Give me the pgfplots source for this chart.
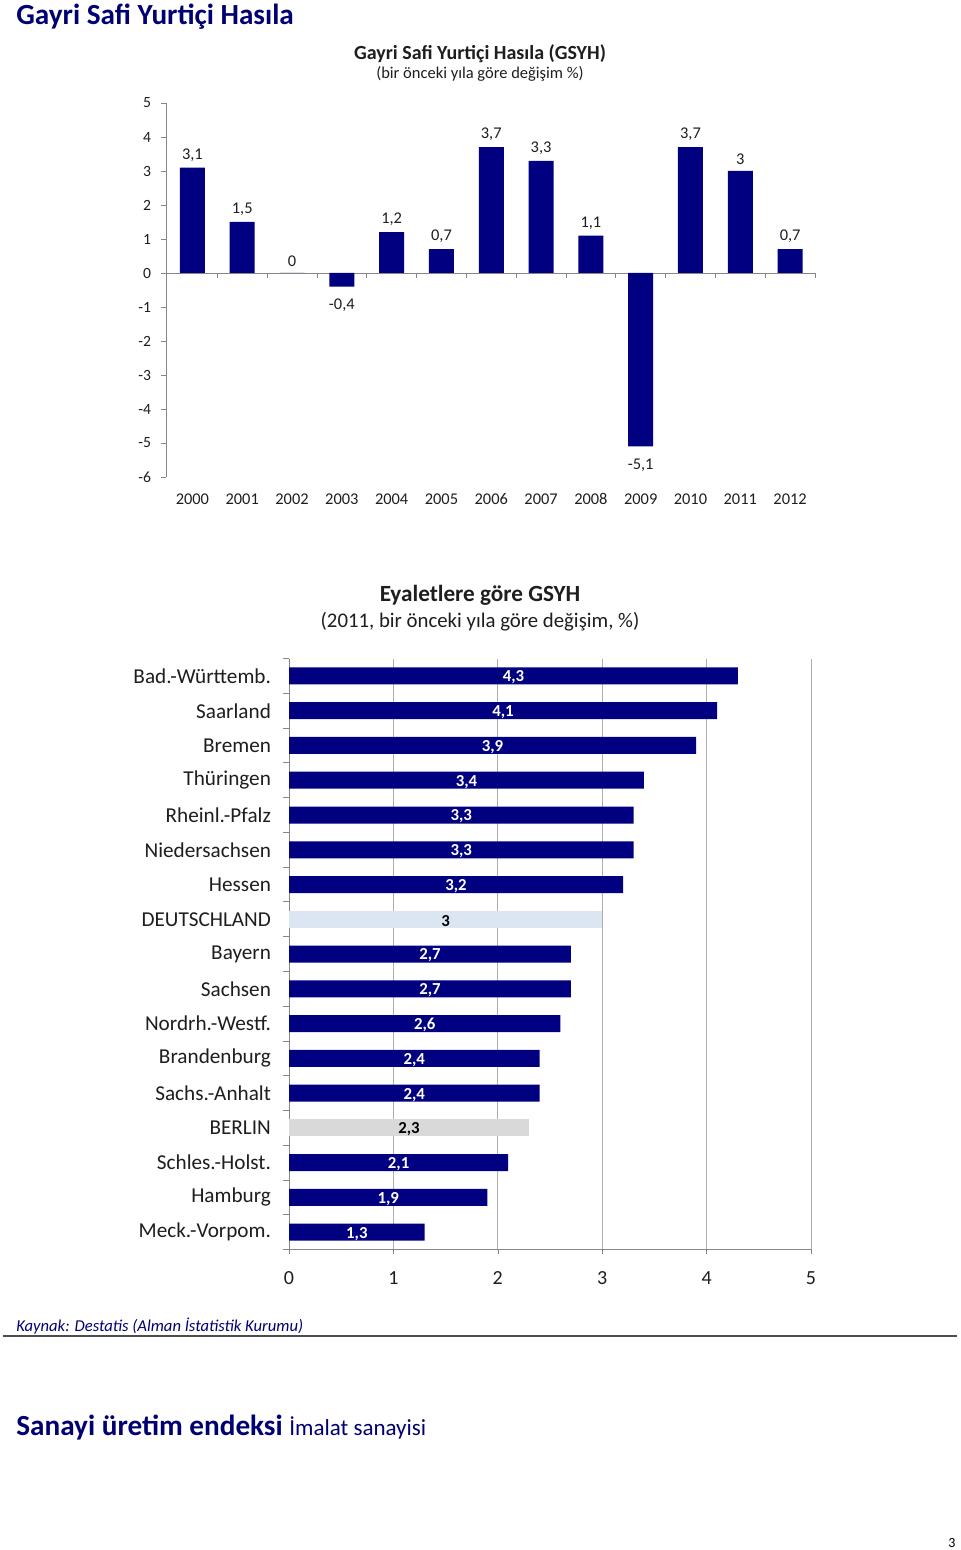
\documentclass[border=0pt]{standalone}
\usepackage{pgfplots}
\pgfplotsset{compat=1.18}
\usepackage{fontspec}
\setmainfont{Carlito}
\definecolor{navy}{RGB}{0,0,128}
\definecolor{ttl}{RGB}{0,0,115}
\definecolor{dlblue}{RGB}{220,230,242}
\definecolor{bgray}{RGB}{217,217,217}
\definecolor{axgray}{RGB}{134,134,134}
\definecolor{grd}{RGB}{175,175,175}
\definecolor{txt}{RGB}{30,30,30}
\begin{document}
\begin{tikzpicture}[x=0.5pt,y=-0.5pt]
\path[use as bounding box, fill=white] (0,0) rectangle (960,1550);
% page headings
\node[anchor=base west, text=ttl, inner sep=0, font=\fontsize{14.6}{16}\selectfont\bfseries] at (16,25) {Gayri Safi Yurtiçi Hasıla};
\node[anchor=base, text=txt, inner sep=0, font=\fontsize{10}{12}\selectfont\bfseries] at (480,60) {Gayri Safi Yurtiçi Hasıla (GSYH)};
\node[anchor=base, text=txt, inner sep=0, font=\fontsize{8.25}{10}\selectfont] at (480,79) {(bir önceki yıla göre değişim \%)};
% chart 1
\begin{axis}[
  at={(83pt,-238.5pt)}, anchor=south west,
  width=324.5pt, height=187pt, scale only axis,
  xmin=-0.53, xmax=12.5, ymin=-6, ymax=5,
  ybar, bar width=12.5pt, bar shift=0pt,
  axis x line*=bottom, axis y line*=left,
  x axis line style={draw=none},
  y axis line style={axgray},
  xtick={0,...,12},
  xticklabels={2000,2001,2002,2003,2004,2005,2006,2007,2008,2009,2010,2011,2012},
  xtick style={draw=none},
  ytick={-6,...,5},
  ytick style={axgray},
  tick align=outside, major tick length=2.5pt,
  /pgf/number format/assume math mode=true,
  tick label style={font=\fontsize{7.8}{9}\selectfont, text=txt},
  xticklabel style={font=\fontsize{8.2}{9}\selectfont, text height=6pt, text depth=0pt, yshift=-1.5pt},
  yticklabel style={xshift=-1.5pt},
  nodes near coords,
  /pgf/number format/use comma,
  every node near coord/.append style={font=\fontsize{8.2}{9}\selectfont, text=txt, inner ysep=4.5pt, yshift=-1.5pt},
  clip=false,
]
\draw[axgray] (axis cs:-0.53,0) -- (axis cs:12.5,0);
\pgfplotsinvokeforeach{0.5,1.5,2.5,3.5,4.5,5.5,6.5,7.5,8.5,9.5,10.5,11.5,12.5}{
  \draw[axgray] (axis cs:#1,0) -- ++(0pt,-2.5pt);
}
\addplot[fill=navy, draw=none] coordinates {
(0,3.1)(1,1.5)(2,0)(3,-0.4)(4,1.2)(5,0.7)(6,3.7)(7,3.3)(8,1.1)(9,-5.1)(10,3.7)(11,3)(12,0.7)
};
\end{axis}
% chart 2 headings
\node[anchor=base, text=txt, inner sep=0, font=\fontsize{11.6}{13}\selectfont\bfseries] at (480,601) {Eyaletlere göre GSYH};
\node[anchor=base, text=txt, inner sep=0, font=\fontsize{10.4}{12}\selectfont] at (480,627) {(2011, bir önceki yıla göre değişim, \%)};
\begin{axis}[
  at={(144.5pt,-624.7pt)}, anchor=south west,
  width=261pt, height=295.4pt, scale only axis,
  xbar, bar width=8.5pt, bar shift=0pt,
  xmin=0, xmax=5, ymin=-0.5, ymax=16.5, y dir=reverse,
  axis x line*=bottom, axis y line*=left,
  axis line style={axgray},
  xmajorgrids, major grid style={grd},
  xtick={0,...,5},
  xtick style={axgray},
  tick align=outside, major tick length=2.5pt,
  ytick={0,...,16},
  yticklabels={Bad.-Württemb.,Saarland,Bremen,Thüringen,Rheinl.-Pfalz,Niedersachsen,Hessen,DEUTSCHLAND,Bayern,Sachsen,Nordrh.-Westf.,Brandenburg,Sachs.-Anhalt,BERLIN,Schles.-Holst.,Hamburg,Meck.-Vorpom.},
  ytick style={draw=none},
  /pgf/number format/assume math mode=true,
  tick label style={font=\fontsize{10}{12}\selectfont, text=txt},
  xticklabel style={yshift=-5pt},
  yticklabel style={font=\fontsize{10.6}{12}\selectfont, xshift=-3pt},
  nodes near coords,
  /pgf/number format/use comma,
  visualization depends on={rawx \as \rawx},
  every node near coord/.append style={font=\fontsize{8.4}{9}\selectfont\bfseries, anchor=center, xshift={-\rawx*26.1pt}, yshift=-0.8pt},
  clip=false,
]
\pgfplotsinvokeforeach{-0.5,0.5,1.5,2.5,3.5,4.5,5.5,6.5,7.5,8.5,9.5,10.5,11.5,12.5,13.5,14.5,15.5,16.5}{
  \draw[axgray] (axis cs:0,#1) -- ++(-3pt,0pt);
}
\addplot[fill=navy, draw=none, nodes near coords style={text=white}] coordinates {
(4.3,0)(4.1,1)(3.9,2)(3.4,3)(3.3,4)(3.3,5)(3.2,6)(2.7,8)(2.7,9)(2.6,10)(2.4,11)(2.4,12)(2.1,14)(1.9,15)(1.3,16)
};
\addplot[fill=dlblue, draw=none, nodes near coords style={text=black}] coordinates {(3,7)};
\addplot[fill=bgray, draw=none, nodes near coords style={text=black}] coordinates {(2.3,13)};
\end{axis}
% footer
\node[anchor=base west, text=ttl, inner sep=0, font=\fontsize{8.3}{10}\selectfont\itshape] at (16,1331) {Kaynak: Destatis (Alman İstatistik Kurumu)};
\draw[line width=1pt, color=black!70] (3,1336) -- (957,1336);
\node[anchor=base west, text=ttl, inner sep=0, font=\fontsize{14.6}{16}\selectfont] at (16,1435) {\textbf{Sanayi üretim endeksi} {\fontsize{11.5}{13}\selectfont İmalat sanayisi}};
\node[anchor=base, text=black, inner sep=0, font=\fontsize{7}{9}\selectfont] at (952,1547) {3};
\end{tikzpicture}
\end{document}
